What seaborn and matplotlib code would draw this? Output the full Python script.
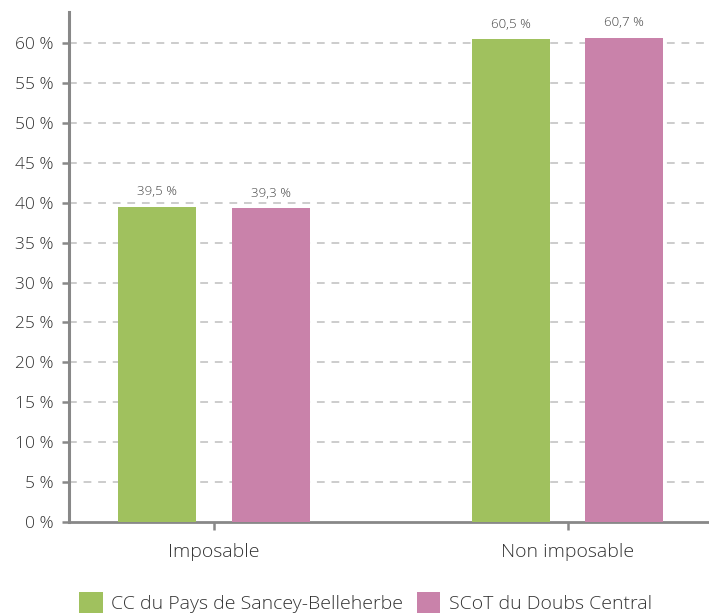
import matplotlib
matplotlib.use("Agg")
import matplotlib.pyplot as plt
import seaborn as sns
import pandas as pd
from matplotlib.patches import Patch

categories = ["Imposable", "Non imposable"]
series = ["CC du Pays de Sancey-Belleherbe", "SCoT du Doubs Central"]
values_cc = [39.5, 60.5]
values_scot = [39.3, 60.7]
labels_cc = ["39,5 %", "60,5 %"]
labels_scot = ["39,3 %", "60,7 %"]
yticks = [0, 5, 10, 15, 20, 25, 30, 35, 40, 45, 50, 55, 60]
colors = ["#A0C15E", "#C982AA"]

df = pd.DataFrame({
    "cat": categories * 2,
    "serie": [series[0]] * 2 + [series[1]] * 2,
    "val": values_cc + values_scot,
})

sns.set_theme(style="white")
plt.rcParams["font.family"] = ["Open Sans", "DejaVu Sans"]
plt.rcParams["font.weight"] = "light"

fig = plt.figure(figsize=(7.09, 6.13), dpi=100)
ax = fig.add_axes([69 / 709, (613 - 522) / 613, 1 - 69 / 709, (522 - 12) / 613])

sns.barplot(data=df, x="cat", y="val", hue="serie", palette=colors,
            width=0.64, gap=0.31, ax=ax, legend=False, saturation=1,
            linewidth=0, zorder=3)

for g in yticks[1:]:
    ax.axhline(g, color="#cccccc", lw=1.4, ls=(0, (4, 3.5)), zorder=1)

ax.set_xlim(-0.41, 1.40)
ax.set_ylim(0, 63.9)
ax.set_yticks(yticks)
ax.set_yticklabels([f"{t} %" for t in yticks])
ax.set_xlabel("")
ax.set_ylabel("")

for cont, labs in zip(ax.containers, [labels_cc, labels_scot]):
    ax.bar_label(cont, labels=labs, padding=6, fontsize=9.5, color="#444444")

for s in ["top", "right"]:
    ax.spines[s].set_visible(False)
ax.spines["left"].set_color("#888888")
ax.spines["left"].set_linewidth(2.2)
ax.spines["bottom"].set_color("#888888")
ax.spines["bottom"].set_linewidth(2)
ax.tick_params(axis="y", left=True, length=5, width=1.8, color="#888888",
               labelsize=12.5, labelcolor="#333333", pad=6)
ax.tick_params(axis="x", bottom=True, length=6, width=1.8, color="#888888",
               labelsize=14, labelcolor="#333333", pad=9)

handles = [Patch(facecolor=c, edgecolor="none") for c in colors]
fig.legend(handles, series, loc="lower center", bbox_to_anchor=(0.516, 0.0),
           ncol=2, frameon=False, fontsize=14, handlelength=1.2,
           handleheight=1.25, handletextpad=0.45, columnspacing=0.7,
           borderpad=0.0, borderaxespad=0, labelcolor="#333333")

fig.savefig("out.png", dpi=100)
